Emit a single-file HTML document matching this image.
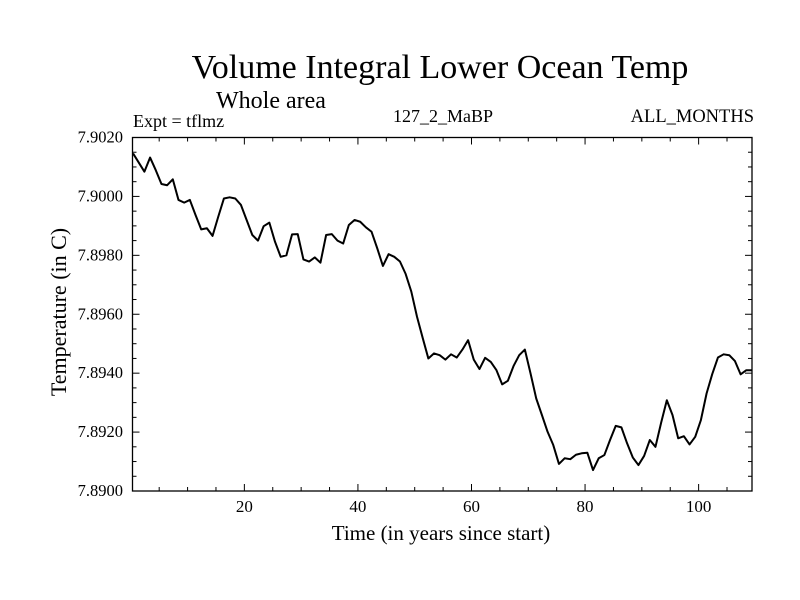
<!DOCTYPE html>
<html><head><meta charset="utf-8">
<style>
html,body{margin:0;padding:0;background:#fff;}
svg{display:block;font-family:"Liberation Serif",serif;}
</style></head>
<body>
<svg id="chart" width="800" height="600" viewBox="0 0 800 600">
<rect width="800" height="600" fill="#fff"/>
<text x="440" y="78" font-size="34" text-anchor="middle">Volume Integral Lower Ocean Temp</text>
<text x="271" y="108" font-size="24" text-anchor="middle">Whole area</text>
<text x="133" y="127" font-size="18">Expt = tflmz</text>
<text x="443" y="122" font-size="18" text-anchor="middle">127_2_MaBP</text>
<text x="754" y="122" font-size="18.5" text-anchor="end">ALL_MONTHS</text>
<text x="441" y="540" font-size="21" text-anchor="middle">Time (in years since start)</text>
<text x="0" y="0" font-size="22" text-anchor="middle" transform="translate(66,312) rotate(-90)">Temperature (in C)</text>
<g id="axes"></g>
<g id="series"></g>
</svg>
<script>
const years = [];
const temps = [7.90146,7.90115,7.90084,7.90132,7.90089,7.90042,7.90038,7.90058,7.89988,7.89979,
7.89988,7.89937,7.89888,7.89892,7.89866,7.89931,7.89993,7.89997,7.89993,7.89971,
7.8992,7.89869,7.8985,7.89899,7.89911,7.89846,7.89795,7.898,7.89871,7.89872,
7.89786,7.89779,7.89793,7.89775,7.89869,7.89872,7.8985,7.8984,7.89903,7.8992,
7.89914,7.89895,7.8988,7.89824,7.89764,7.89804,7.89795,7.89779,7.89737,7.89677,
7.89592,7.8952,7.8945,7.89467,7.89461,7.89446,7.89464,7.89453,7.8948,7.89512,
7.89446,7.89414,7.89452,7.89438,7.8941,7.89362,7.89374,7.89424,7.89461,7.8948,
7.89399,7.89314,7.89258,7.89201,7.89156,7.89092,7.89111,7.89108,7.89123,7.89128,
7.8913,7.89071,7.89111,7.89122,7.89173,7.89221,7.89216,7.89162,7.89114,7.89088,
7.89119,7.89173,7.8915,7.89232,7.89308,7.89258,7.89179,7.89186,7.89158,7.89184,
7.89241,7.89331,7.89397,7.89453,7.89464,7.89461,7.89441,7.89396,7.8941,7.8941];
for (let i = 0; i < temps.length; i++) years.push(i + 0.4);
const xTicks = [20, 40, 60, 80, 100];
const xTickLabels = ["20", "40", "60", "80", "100"];
const yTicks = [7.890, 7.892, 7.894, 7.896, 7.898, 7.900, 7.902];
const yTickLabels = ["7.8900", "7.8920", "7.8940", "7.8960", "7.8980", "7.9000", "7.9020"];

const L = 132.5, R = 752, T = 137.5, B = 491;
const xMin = 0.3, xMax = 109.4, yMin = 7.890, yMax = 7.902;
const xs = v => L + (v - xMin) / (xMax - xMin) * (R - L);
const ys = v => B - (v - yMin) / (yMax - yMin) * (B - T);
const NS = "http://www.w3.org/2000/svg";
const axes = document.getElementById('axes');
function mk(tag, attrs, parent) {
  const e = document.createElementNS(NS, tag);
  for (const k in attrs) e.setAttribute(k, attrs[k]);
  parent.appendChild(e);
  return e;
}
const frame = mk('rect', {x: L, y: T, width: R - L, height: B - T, fill: 'none', stroke: '#000', 'stroke-width': 1.3}, axes);


for (let t = 5; t <= 105; t += 5) {
  const major = t % 20 === 0;
  const len = major ? 7 : 4;
  const x = xs(t);
  const a = mk('line', {x1: x, x2: x, y1: B, y2: B - len, stroke: '#000', 'stroke-width': 1}, axes);
  
  
  const b = mk('line', {x1: x, x2: x, y1: T, y2: T + len, stroke: '#000', 'stroke-width': 1}, axes);
  
  
}
xTicks.forEach((t, i) => {
  const tx = mk('text', {x: xs(t), y: B + 21, 'font-size': 17, 'text-anchor': 'middle'}, axes);
  tx.textContent = xTickLabels[i];
  
  
});
for (let k = 0; k <= 24; k++) {
  const v = yMin + k * 0.0005;
  const major = k % 4 === 0;
  const len = major ? 7 : 4;
  const y = ys(v);
  const a = mk('line', {x1: L, x2: L + len, y1: y, y2: y, stroke: '#000', 'stroke-width': 1}, axes);
  
  
  const b = mk('line', {x1: R, x2: R - len, y1: y, y2: y, stroke: '#000', 'stroke-width': 1}, axes);
  
  
}
yTicks.forEach((v, i) => {
  const tx = mk('text', {x: 123, y: ys(v) + 5, 'font-size': 16.5, 'text-anchor': 'end'}, axes);
  tx.textContent = yTickLabels[i];
  
  
});
const d = temps.map((v, i) => (i ? 'L' : 'M') + xs(years[i]).toFixed(2) + ',' + ys(v).toFixed(2)).join(' ');
const line = mk('path', {d: d, fill: 'none', stroke: '#000', 'stroke-width': 2, 'stroke-linejoin': 'round'}, document.getElementById('series'));


</script>
</body></html>
